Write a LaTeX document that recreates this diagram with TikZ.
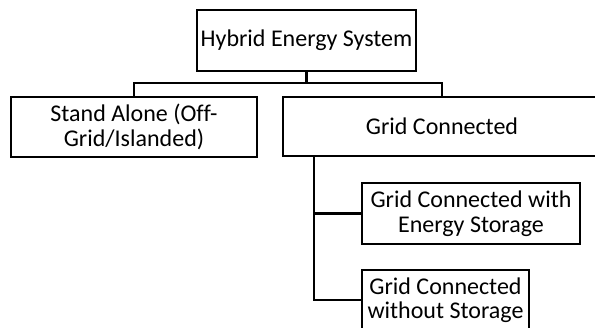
\documentclass[tikz,border=0pt]{standalone}
\usepackage{fontspec}
\setmainfont{Carlito}[Ligatures=NoCommon]
\tikzset{
  box/.style={draw, line width=2.2pt, inner sep=0pt, align=center,
    font=\fontsize{24}{24.5}\selectfont},
  link/.style={line width=2.2pt}
}
\begin{document}
\begin{tikzpicture}[x=1pt, y=-1pt]
\clip (0,0) rectangle (595,328);
\node [box, minimum width=219pt, minimum height=61pt] (hes) at (306.5,40.5) {Hybrid Energy System};
\node [box, minimum width=246pt, minimum height=60pt] (stand) at (134,127) {Stand Alone (Off-\\Grid/Islanded)};
\node [box, minimum width=318pt, minimum height=59pt] (grid) at (442,126.5) {Grid Connected};
\node [box, minimum width=218pt, minimum height=61pt] (store) at (471,213.5) {Grid Connected with\\Energy Storage};
\node [box, minimum width=167pt, minimum height=60pt] (nostore) at (445.5,300) {Grid Connected\\without Storage};
% bus below the top box
\coordinate (bus) at (0,83);
\draw[link] (hes.south) -- (hes.south |- bus);
\draw[link] (stand.north) -- (stand.north |- bus) -| (grid.north);
% trunk below grid connected
\coordinate (trunk) at ([xshift=-128pt]grid.south);
\draw[link] (trunk) |- (store.west);
\draw[link] (trunk) |- (nostore.west);
\end{tikzpicture}
\end{document}
